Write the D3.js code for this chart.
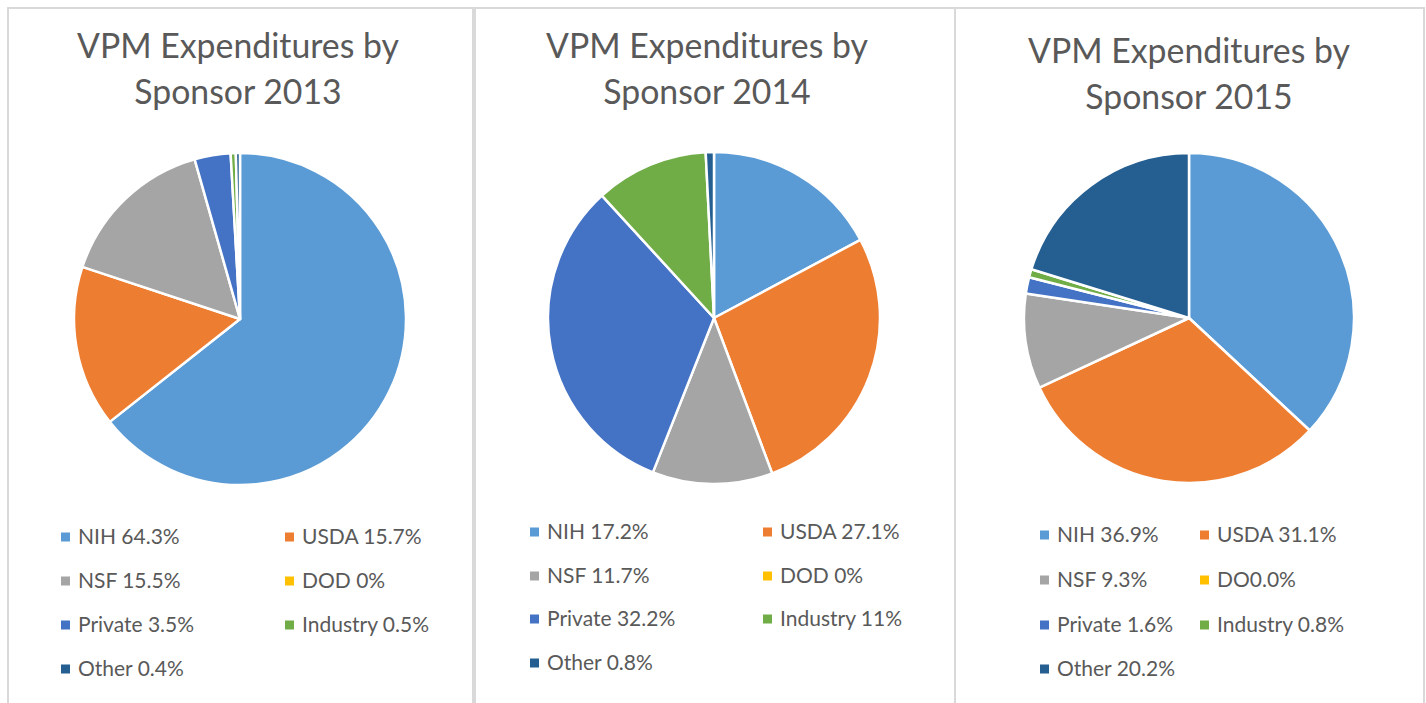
<!DOCTYPE html>
<html>
<head>
<meta charset="utf-8">
<script src="https://cdn.jsdelivr.net/npm/d3@7"></script>
<style>
  html, body { margin: 0; padding: 0; background: #fff; }
  svg { display: block; }
  text { font-family: Lato, "Open Sans", sans-serif; fill: #595959; }
</style>
</head>
<body>
<svg id="chart" width="1426" height="703"></svg>
<script>
// ---- data ----
const sponsors = ["NIH", "USDA", "NSF", "DOD", "Private", "Industry", "Other"];
const colors = ["#5B9BD5", "#ED7D31", "#A5A5A5", "#FFC000", "#4472C4", "#70AD47", "#255E91"];
const years = ["2013", "2014", "2015"];
const titleLine1 = "VPM Expenditures by";
const titleLine2 = ["Sponsor 2013", "Sponsor 2014", "Sponsor 2015"];
const values2013 = [64.3, 15.7, 15.5, 0, 3.5, 0.5, 0.4];
const values2014 = [17.2, 27.1, 11.7, 0, 32.2, 11, 0.8];
const values2015 = [36.9, 31.1, 9.3, 0, 1.6, 0.8, 20.2];
const labels2013 = ["NIH 64.3%", "USDA 15.7%", "NSF 15.5%", "DOD 0%", "Private 3.5%", "Industry 0.5%", "Other 0.4%"];
const labels2014 = ["NIH 17.2%", "USDA 27.1%", "NSF 11.7%", "DOD 0%", "Private 32.2%", "Industry 11%", "Other 0.8%"];
const labels2015 = ["NIH 36.9%", "USDA 31.1%", "NSF 9.3%", "DO0.0%", "Private 1.6%", "Industry 0.8%", "Other 20.2%"];

const allValues = [values2013, values2014, values2015];
const allLabels = [labels2013, labels2014, labels2015];

// ---- layout ----
const panels = [
  { cx: 240, cy: 319, r: 166, tx: 238, ty1: 58, ty2: 104, col1: 61, col2: 285, rows: [537, 581, 625, 669] },
  { cx: 714, cy: 318, r: 166, tx: 707, ty1: 58, ty2: 104, col1: 530, col2: 763, rows: [532, 576, 619, 663] },
  { cx: 1189, cy: 318, r: 165, tx: 1189, ty1: 63, ty2: 109, col1: 1040, col2: 1200, rows: [535, 580, 625, 669] }
];

const svg = d3.select("#chart");

// borders
const border = "#D9D9D9";
svg.append("rect").attr("x", 7).attr("y", 7).attr("width", 1418).attr("height", 2).attr("fill", border);
svg.append("rect").attr("x", 7).attr("y", 7).attr("width", 2).attr("height", 700).attr("fill", border);
svg.append("rect").attr("x", 472).attr("y", 7).attr("width", 4).attr("height", 700).attr("fill", border);
svg.append("rect").attr("x", 954).attr("y", 7).attr("width", 2).attr("height", 700).attr("fill", border);
svg.append("rect").attr("x", 1423).attr("y", 7).attr("width", 2).attr("height", 700).attr("fill", border);

const color = d3.scaleOrdinal().domain(sponsors).range(colors);
const pie = d3.pie().sort(null).value(d => d.v);

panels.forEach((p, i) => {
  const g = svg.append("g");
  // titles
  const t1 = g.append("text").attr("x", p.tx).attr("y", p.ty1).attr("text-anchor", "middle")
    .style("font-size", "32px").text(titleLine1);
  const w = t1.node().getComputedTextLength();
  const fs = 32 * 322 / w;
  t1.style("font-size", fs + "px");
  g.append("text").attr("x", p.tx).attr("y", p.ty2).attr("text-anchor", "middle")
    .style("font-size", fs + "px").text(titleLine2[i]);

  // pie
  const data = sponsors.map((s, k) => ({ s, v: allValues[i][k] }));
  const arc = d3.arc().innerRadius(0).outerRadius(p.r);
  g.append("g").attr("transform", `translate(${p.cx},${p.cy})`)
    .selectAll("path").data(pie(data).filter(d => d.data.v > 0)).join("path")
    .attr("d", arc)
    .attr("fill", d => color(d.data.s))
    .attr("stroke", "#fff").attr("stroke-width", 2.5).attr("stroke-linejoin", "round");

  // legend
  const lg = g.append("g");
  sponsors.forEach((s, k) => {
    const row = Math.floor(k / 2), col = k % 2;
    const x = col === 0 ? p.col1 : p.col2;
    const y = p.rows[row];
    lg.append("rect").attr("x", x).attr("y", y - 4.5).attr("width", 9).attr("height", 9).attr("fill", color(s));
    lg.append("text").attr("x", x + 17).attr("y", y).attr("dy", "0.35em")
      .style("font-size", "21px").text(allLabels[i][k]);
  });
});
</script>
</body>
</html>
